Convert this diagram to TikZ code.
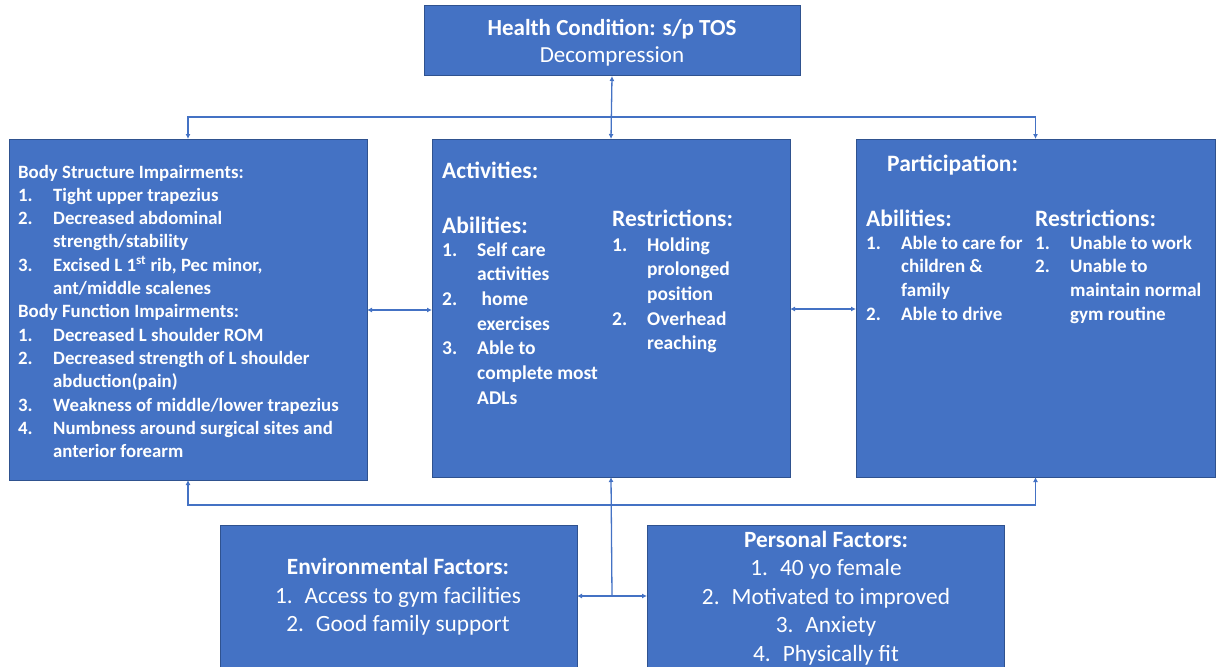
\documentclass[tikz,border=0pt]{standalone}
\usepackage{fontspec}
\setmainfont{Carlito}
\usetikzlibrary{arrows.meta}
\definecolor{boxblue}{HTML}{4472C4}
\definecolor{edgeblue}{HTML}{2F528F}
\definecolor{linkblue}{HTML}{4472C4}

\tikzset{
  panel/.style={draw=edgeblue, line width=1pt, fill=boxblue, anchor=north west,
                inner sep=0pt, outer sep=0pt},
  link/.style={draw=linkblue, line width=1.3pt, -{Latex[length=5pt,width=5pt]}},
  linkboth/.style={draw=linkblue, line width=1.3pt,
                   {Latex[length=5pt,width=5pt]}-{Latex[length=5pt,width=5pt]}},
  txt/.style={text=white, inner sep=0pt, anchor=base west},
  ctxt/.style={text=white, inner sep=0pt, anchor=center, align=center},
  listtxt/.style 2 args={txt, font=\fontsize{#1}{#2}\selectfont\bfseries},
  headtxt/.style={txt, font=\fontsize{#1}{28}\selectfont\bfseries},
}

\begin{document}
\begin{tikzpicture}[x=1pt, y=-1pt]
\useasboundingbox (0,0) rectangle (1222,666);

% ---- boxes ----
\node[panel, minimum width=376pt, minimum height=70pt]  (health) at (424,6)   {};
\node[panel, minimum width=358pt, minimum height=341pt] (body)   at (9,139)   {};
\node[panel, minimum width=358pt, minimum height=338pt] (act)    at (432,139) {};
\node[panel, minimum width=359pt, minimum height=338pt] (part)   at (856,139) {};
\node[panel, minimum width=357pt, minimum height=150pt] (env)    at (220,525) {};
\node[panel, minimum width=357pt, minimum height=150pt] (pers)   at (647,525) {};

% ---- connectors ----
\coordinate (topbus) at (612,117);
\coordinate (lowbus) at (612,505);
\coordinate (hub)    at (612,596);

\draw[linkboth] (health.south) -- (act.north);
\draw[link] (topbus) -| (body.north);
\draw[link] (topbus) -| (part.north);
\draw[linkboth] (body.east |- 0,310) -- (act.west |- 0,310);
\draw[linkboth] (act.east |- 0,309) -- (part.west |- 0,309);
\draw[link] (lowbus) -| (body.south);
\draw[link] (lowbus) -| (part.south);
\draw[link] (hub) -- (act.south);
\draw[linkboth] (env.east |- hub) -- (pers.west |- hub);

% ---- health condition ----
\node[ctxt, font=\fontsize{23}{27}\selectfont] (healthtxt) at (612,43)
  {\textbf{Health Condition: s/p TOS}\\Decompression};

% ---- body structure / function ----
\node[listtxt={18.8}{23.3}] (bodytxt) at (18,178) {%
\begin{tabular}[t]{@{}p{35pt}@{}l@{}}
\multicolumn{2}{@{}l@{}}{\bfseries Body Structure Impairments:}\\
1. & Tight upper trapezius\\
2. & Decreased abdominal\\
   & strength/stability\\
3. & Excised L 1\textsuperscript{st} rib, Pec minor,\\
   & ant/middle scalenes\\
\multicolumn{2}{@{}l@{}}{\bfseries Body Function Impairments:}\\
1. & Decreased L shoulder ROM\\
2. & Decreased strength of L shoulder\\
   & abduction(pain)\\
3. & Weakness of middle/lower trapezius\\
4. & Numbness around surgical sites and\\
   & anterior forearm
\end{tabular}};

% ---- activities ----
\node[headtxt=23.5] (acthead) at (442,178) {Activities:};
\node[headtxt=23.5] (actab)   at (442,233) {Abilities:};
\node[headtxt=23.5] (actres)  at (612,226) {Restrictions:};
\node[listtxt={19.5}{24.7}] (actablist) at (442,256) {%
\begin{tabular}[t]{@{}p{35pt}@{}l@{}}
1. & Self care\\
   & activities\\
2. & \ home\\
   & exercises\\
3. & Able to\\
   & complete most\\
   & ADLs
\end{tabular}};
\node[listtxt={19.5}{24.7}] (actreslist) at (612,251) {%
\begin{tabular}[t]{@{}p{35pt}@{}l@{}}
1. & Holding\\
   & prolonged\\
   & position\\
2. & Overhead\\
   & reaching
\end{tabular}};

% ---- participation ----
\node[headtxt=23.5] (parthead) at (887,171) {Participation:};
\node[headtxt=23.5] (partab)   at (866,226) {Abilities:};
\node[headtxt=23.5] (partres)  at (1035,226) {Restrictions:};
\node[listtxt={19}{23.7}] (partablist) at (866,249) {%
\begin{tabular}[t]{@{}p{35pt}@{}l@{}}
1. & Able to care for\\
   & children \&\\
   & family\\
2. & Able to drive
\end{tabular}};
\node[listtxt={19}{23.7}] (partreslist) at (1035,249) {%
\begin{tabular}[t]{@{}p{35pt}@{}l@{}}
1. & Unable to work\\
2. & Unable to\\
   & maintain normal\\
   & gym routine
\end{tabular}};

% ---- environmental factors ----
\node[ctxt, font=\fontsize{23.3}{28.5}\selectfont] (envtxt) at (398,597)
  {\textbf{Environmental Factors:}\\
   1.\hspace{12pt}Access to gym facilities\\
   2.\hspace{12pt}Good family support};

% ---- personal factors ----
\node[ctxt, font=\fontsize{23.3}{28.5}\selectfont] (perstxt) at (826,598)
  {\textbf{Personal Factors:}\\
   1.\hspace{12pt}40 yo female\\
   2.\hspace{12pt}Motivated to improved\\
   3.\hspace{12pt}Anxiety\\
   4.\hspace{12pt}Physically fit};

\end{tikzpicture}
\end{document}
